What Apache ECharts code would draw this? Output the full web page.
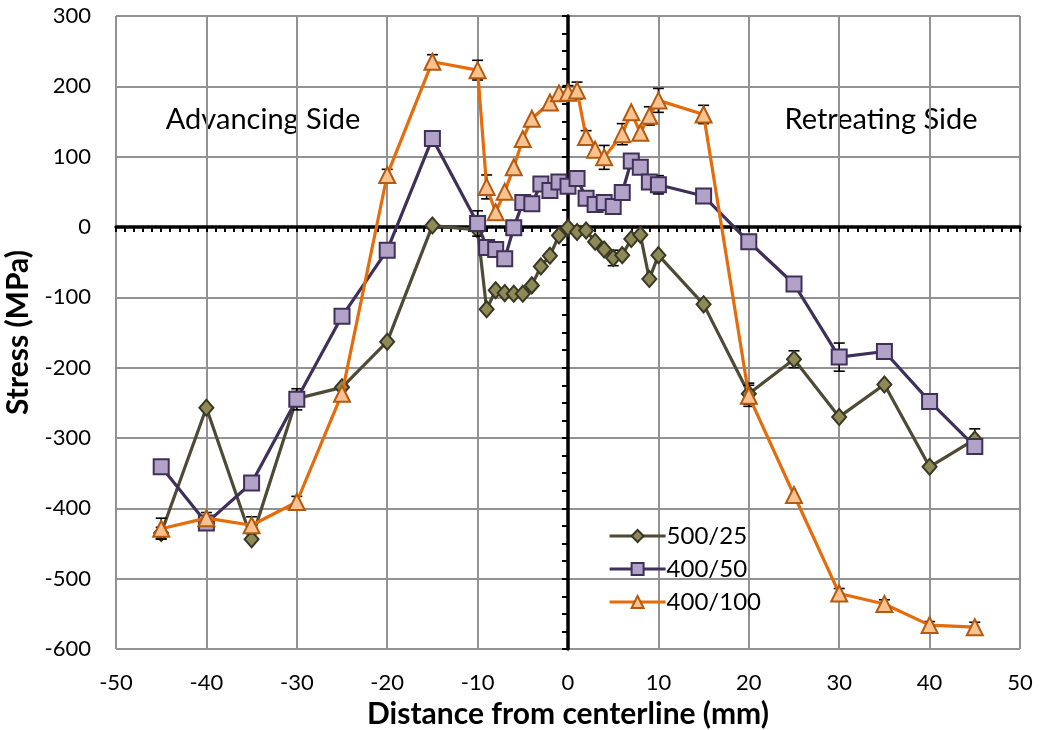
<!DOCTYPE html>
<html>
<head>
<meta charset="utf-8">
<script src="https://cdn.jsdelivr.net/npm/echarts@6/dist/echarts.min.js"></script>
<style>
html,body{margin:0;padding:0;background:#fff;}
#chart{width:1040px;height:730px;}
</style>
</head>
<body>
<div id="chart"></div>
<script>
// ---- Data ----
var seriesNames = ['500/25', '400/50', '400/100'];

var x500_25 = [-45,-40,-35,-30,-25,-20,-15,-10,-9,-8,-7,-6,-5,-4,-3,-2,-1,0,1,2,3,4,5,6,7,8,9,10,15,20,25,30,35,40,45];
var y500_25 = [-435,-257,-444,-244,-228,-163,2,-4,-117,-90,-94,-95,-95,-83,-56,-41,-12,-1,-7,-5,-21,-32,-44,-40,-17,-11,-74,-40,-110,-237,-188,-270,-224,-341,-302];
var e500_25 = [8,0,0,10,0,0,0,0,0,0,0,0,0,0,0,0,0,0,0,0,0,0,11,0,0,0,0,0,0,15,12,0,0,0,15];

var x400_50 = [-45,-40,-35,-30,-25,-20,-15,-10,-9,-8,-7,-6,-5,-4,-3,-2,-1,0,1,2,3,4,5,6,7,8,9,10,15,20,25,30,35,40,45];
var y400_50 = [-341,-421,-364,-245,-127,-33,126,5,-29,-32,-45,-1,35,33,61,52,64,58,69,41,32,35,29,49,94,85,64,60,44,-21,-81,-185,-177,-248,-312];
var e400_50 = [0,0,0,15,0,0,0,18,0,0,0,0,0,0,0,0,0,0,0,0,0,0,0,0,0,0,0,13,0,0,0,20,0,0,0];

var x400_100 = [-45,-40,-35,-30,-25,-20,-15,-10,-9,-8,-7,-6,-5,-4,-2,-1,0,1,2,3,4,6,7,8,9,10,15,20,25,30,35,40,45];
var y400_100 = [-429,-414,-424,-391,-237,74,235,223,57,21,50,85,125,154,177,190,191,194,128,110,99,132,163,134,158,180,160,-240,-381,-521,-536,-566,-569];
var e400_100 = [15,8,12,8,0,8,10,14,17,0,0,0,0,0,0,0,10,12,9,0,17,15,0,0,13,17,13,15,0,7,6,5,7];

var xTicks = {min: -50, max: 50, step: 10};
var yTicks = {min: -600, max: 300, step: 100};

var annotations = ['Advancing Side', 'Retreating Side'];
var xTitle = 'Distance from centerline (mm)';
var yTitle = 'Stress (MPa)';

// ---- Styles ----
var FONT = 'Lato, "Open Sans", sans-serif';
var styles = [
  {line: '#4d4a35', fill: '#8d8a58', border: '#3a3824', symbol: 'diamond', size: 15},
  {line: '#3f3059', fill: '#b3a2c8', border: '#3f3059', symbol: 'rect', size: 15},
  {line: '#e46c0a', fill: '#fac28f', border: '#b35a10', symbol: 'triangle', size: 16}
];

function pairs(xs, ys) { return xs.map(function (x, i) { return [x, ys[i]]; }); }
function triples(xs, ys, es) { return xs.map(function (x, i) { return [x, ys[i], es[i]]; }); }

var allX = [x500_25, x400_50, x400_100];
var allY = [y500_25, y400_50, y400_100];
var allE = [e500_25, e400_50, e400_100];

function renderErr(params, api) {
  var x = api.value(0), y = api.value(1), e = api.value(2);
  if (!e) return null;
  var top = api.coord([x, y + e]);
  var bot = api.coord([x, y - e]);
  var st = {stroke: '#000', lineWidth: 1.6};
  var w = 5.5;
  return {
    type: 'group',
    children: [
      {type: 'line', shape: {x1: top[0], y1: top[1], x2: bot[0], y2: bot[1]}, style: st},
      {type: 'line', shape: {x1: top[0] - w, y1: top[1], x2: top[0] + w, y2: top[1]}, style: st},
      {type: 'line', shape: {x1: bot[0] - w, y1: bot[1], x2: bot[0] + w, y2: bot[1]}, style: st}
    ]
  };
}

var series = [];
for (var i = 0; i < 3; i++) {
  series.push({
    type: 'custom',
    name: seriesNames[i] + ' err',
    renderItem: renderErr,
    data: triples(allX[i], allY[i], allE[i]),
    z: 1 + i * 3,
    silent: true,
    legendHoverLink: false
  });
}
for (var j = 0; j < 3; j++) {
  var s = styles[j];
  series.push({
    type: 'line',
    name: seriesNames[j],
    data: pairs(allX[j], allY[j]),
    symbol: s.symbol,
    symbolSize: s.symbol === 'diamond' ? [14, 16] : s.size,
    showAllSymbol: true,
    lineStyle: {color: s.line, width: 3.2},
    itemStyle: {color: s.fill, borderColor: s.border, borderWidth: 2},
    z: 2 + j * 3,
    animation: false
  });
}

var chart = echarts.init(document.getElementById('chart'), null, {renderer: 'canvas'});
chart.setOption({
  animation: false,
  backgroundColor: '#fff',
  grid: {left: 116, right: 20, top: 16, bottom: 81, containLabel: false, outerBoundsMode: 'none'},
  legend: {
    data: seriesNames,
    orient: 'vertical',
    left: 603,
    top: 519,
    itemWidth: 56,
    itemHeight: 15,
    itemGap: 9,
    lineStyle: {width: 3.2},
    textStyle: {fontFamily: FONT, fontSize: 24, lineHeight: 24, color: '#000', padding: [0, 0, 0, -4]}
  },
  xAxis: [
    {
      type: 'value', min: xTicks.min, max: xTicks.max, interval: xTicks.step, position: 'bottom',
      axisLine: {show: false, onZero: false}, axisTick: {show: false},
      axisLabel: {fontFamily: FONT, fontSize: 22, color: '#000', margin: 23},
      splitLine: {show: true, lineStyle: {color: '#929292', width: 2}},
      name: xTitle, nameLocation: 'middle', nameGap: 43,
      nameTextStyle: {fontFamily: FONT, fontSize: 30, fontWeight: 'bold', color: '#000'}
    },
    {
      type: 'value', min: xTicks.min, max: xTicks.max, interval: 1, position: 'bottom',
      axisLine: {show: true, onZero: true, onZeroAxisIndex: 0, lineStyle: {color: '#000', width: 3.5}},
      axisTick: {show: true, length: 5, lineStyle: {color: '#000', width: 2}},
      axisLabel: {show: false}, splitLine: {show: false}
    }
  ],
  yAxis: [
    {
      type: 'value', min: yTicks.min, max: yTicks.max, interval: yTicks.step, position: 'left',
      axisLine: {show: false, onZero: false}, axisTick: {show: false},
      axisLabel: {fontFamily: FONT, fontSize: 22, color: '#000', margin: 25},
      splitLine: {show: true, lineStyle: {color: '#929292', width: 2}},
      name: yTitle, nameLocation: 'middle', nameGap: 80, nameRotate: 90,
      nameTextStyle: {fontFamily: FONT, fontSize: 30, fontWeight: 'bold', color: '#000'}
    },
    {
      type: 'value', min: yTicks.min, max: yTicks.max, interval: 25, position: 'left',
      axisLine: {show: true, onZero: true, onZeroAxisIndex: 0, lineStyle: {color: '#000', width: 3.5}},
      axisTick: {show: true, length: 6, lineStyle: {color: '#000', width: 2}},
      axisLabel: {show: false}, splitLine: {show: false}
    }
  ],
  graphic: [
    {type: 'text', x: 263, y: 120, style: {text: annotations[0], fontFamily: FONT, fontSize: 29, fill: '#000', align: 'center', verticalAlign: 'middle'}},
    {type: 'text', x: 881, y: 120, style: {text: annotations[1], fontFamily: FONT, fontSize: 29, fill: '#000', align: 'center', verticalAlign: 'middle'}}
  ],
  series: series
});
</script>
</body>
</html>
